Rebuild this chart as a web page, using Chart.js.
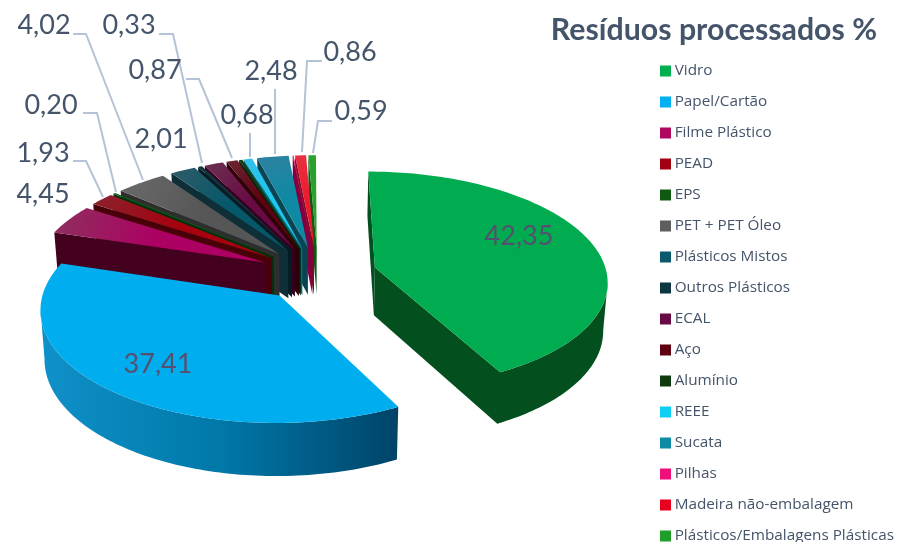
<!DOCTYPE html>
<html><head><meta charset="utf-8">
<style>html,body{margin:0;padding:0;background:#fff}#w{position:relative;width:897px;height:542px}</style>
<script src="https://cdn.jsdelivr.net/npm/chart.js@4"></script>
</head><body><div id="w"><canvas id="c" width="897" height="542"></canvas></div>
<script>
const categories = ["Vidro","Papel/Cartão","Filme Plástico","PEAD","EPS","PET + PET Óleo","Plásticos Mistos","Outros Plásticos","ECAL","Aço","Alumínio","REEE","Sucata","Pilhas","Madeira não-embalagem","Plásticos/Embalagens Plásticas"];
const values = [42.35,37.41,4.45,1.93,0.20,4.02,2.01,0.33,1.50,0.87,0.25,0.68,2.48,0.07,0.86,0.59];
const legendColors = ["#00b050","#00b0f0","#b0085f","#a00010","#0f5a12","#5e5e5e","#0b5a6c","#0e3540","#6a0a45","#600010","#0f3a10","#0fcff5","#0e8aa4","#ee0f78","#e8001f","#1f9e2a"];
const topInner = ["#00ac4f","#00aeef","#ad0063","#a8000f","#0c5a14","#565656","#04586a","#0e3540","#6a0a45","#600010","#0f3a10","#1ec8ef","#0e8aa4","#ec0f78","#ec1c2e","#2ca02c"];
const topOuter = ["#00ac4f","#00aeef","#92295f","#8c1f2a","#0c5a14","#666666","#2a5a68","#0e3540","#6a2c50","#6a2230","#0f3a10","#30c0e8","#2b82a0","#ec0f78","#e8303f","#2ca02c"];
const sideColors = ["#03501e","#0078a8","#43001f","#4a0008","#03300a","#2e2e2e","#0e2e38","#061c22","#350020","#2f0008","#052005","#0a6a80","#0a4452","#800040","#7a0a20","#0d5a12"];
const explode = new Array(categories.length).fill(59);
const labelTexts = ["42,35","37,41","4,45","1,93","0,20","4,02","2,01","0,33","0,87","0,68","2,48","0,86","0,59"];
const labelX = [519,158,43,43,51,44,161,129,155,247,271,350,361];
const labelY = [236,364,194,153,105,25,139,25,70,115,71,52,111];
const leaders = [
 [[73,161],[86,161],[103,197]],
 [[83,113],[97,113],[116,192]],
 [[73,34],[86,34],[143,180]],
 [[159,34],[173,34],[202,163]],
 [[186,79],[199,79],[232,158]],
 [[250,133],[250,157]],
 [[275,89],[275,154]],
 [[322,61],[307,61],[302,152]],
 [[332,121],[318,121],[313,153]]
];
const R=232, K=0.4655, PERSP=0.00048, XV=309, YV=274, X0=9, DEPTH=48, BOTSCALE=0.985;
function proj(X,V,bottom){
  const w=1-PERSP*V, s=bottom?BOTSCALE:1;
  return [XV+(X0+X)/w*s, YV+K*V/w*s+(bottom?DEPTH/w:0)];
}
function wall(ctx,run,fill){
  ctx.beginPath();
  run.forEach((p,j)=>{const q=proj(p[0],p[1]);j?ctx.lineTo(q[0],q[1]):ctx.moveTo(q[0],q[1]);});
  for(let j=run.length-1;j>=0;j--){const q=proj(run[j][0],run[j][1],true);ctx.lineTo(q[0],q[1]);}
  ctx.closePath();
  ctx.fillStyle=fill;ctx.fill();
}
const pie3d={id:'pie3d',
 beforeLayout(chart){
  const l=chart.legend;
  if(!l._tall){const u=l.update.bind(l);l.update=(w,h,m)=>u(w,640,m);l._tall=true;}
 },
 afterLayout(chart){
  const l=chart.legend,t=chart.titleBlock;
  t.right=877;
  l.left=648.3; l.right=897; l.top=47.7; l.bottom=640;
 },
 beforeDatasetsDraw(chart){
  const ctx=chart.ctx, arcs=chart.getDatasetMeta(0).data;
  const order=arcs.map((a,i)=>{
    const s=a.startAngle+Math.PI/2,e=a.endAngle+Math.PI/2,m=(s+e)/2;
    return {i,s,e,m,off:a.options.offset};
  }).sort((p,q)=>(-Math.cos(p.m))-(-Math.cos(q.m)));
  ctx.save();
  for(const o of order){
    const ax=Math.sin(o.m)*o.off, av=-Math.cos(o.m)*o.off;
    const n=Math.max(2,Math.ceil((o.e-o.s)/0.02));
    const pts=[[ax,av]];
    for(let j=0;j<=n;j++){const t=o.s+(o.e-o.s)*j/n;pts.push([ax+R*Math.sin(t),av-R*Math.cos(t)]);}
    const scr=pts.map(p=>proj(p[0],p[1]));
    let side=sideColors[o.i];
    if(o.i===1){const g=ctx.createLinearGradient(45,0,398,0);g.addColorStop(0,'#0f90c8');g.addColorStop(0.5,'#0078a8');g.addColorStop(1,'#004468');side=g;}
    let run=null;
    for(let j=0;j<pts.length;j++){
      const k=(j+1)%pts.length;
      if(scr[k][0]<scr[j][0]){ if(!run) run=[pts[j]]; run.push(pts[k]); }
      else if(run){ wall(ctx,run,side); run=null; }
    }
    if(run) wall(ctx,run,side);
    const mid=proj(ax+R*Math.sin(o.m),av-R*Math.cos(o.m)),ap=scr[0];
    const g=ctx.createLinearGradient(ap[0],ap[1],mid[0],mid[1]);
    g.addColorStop(0,topInner[o.i]);g.addColorStop(0.55,topInner[o.i]);g.addColorStop(1,topOuter[o.i]);
    ctx.beginPath();scr.forEach((p,j)=>j?ctx.lineTo(p[0],p[1]):ctx.moveTo(p[0],p[1]));ctx.closePath();
    ctx.fillStyle=g;ctx.fill();
  }
  ctx.strokeStyle='#b4c3d6';ctx.lineWidth=2;ctx.lineJoin='miter';
  for(const l of leaders){ctx.beginPath();l.forEach((p,j)=>j?ctx.lineTo(p[0],p[1]):ctx.moveTo(p[0],p[1]));ctx.stroke();}
  ctx.font='27px Lato';ctx.textAlign='center';ctx.textBaseline='middle';
  labelTexts.forEach((t,i)=>{ctx.fillStyle=i<2?'#55506f':'#44546a';ctx.fillText(t,labelX[i],labelY[i]);});
  ctx.restore();
  return false;
 }
};
new Chart(document.getElementById('c'),{
 type:'pie',
 data:{labels:categories,datasets:[{data:values,backgroundColor:legendColors,borderColor:legendColors,borderWidth:8,offset:explode}]},
 plugins:[pie3d],
 options:{responsive:false,animation:false,
  layout:{padding:0},
  plugins:{
   tooltip:{enabled:false},
   title:{display:true,text:'Resíduos processados %',align:'end',color:'#44546a',font:{family:'Lato',size:30.3,weight:'bold',lineHeight:1.2},padding:{top:12,bottom:0}},
   legend:{position:'right',align:'start',labels:{boxWidth:3,boxHeight:3,padding:15.7,color:'#44546a',font:{family:'Open Sans',size:15.3,lineHeight:1}}}
  }
 }
});
</script></body></html>
